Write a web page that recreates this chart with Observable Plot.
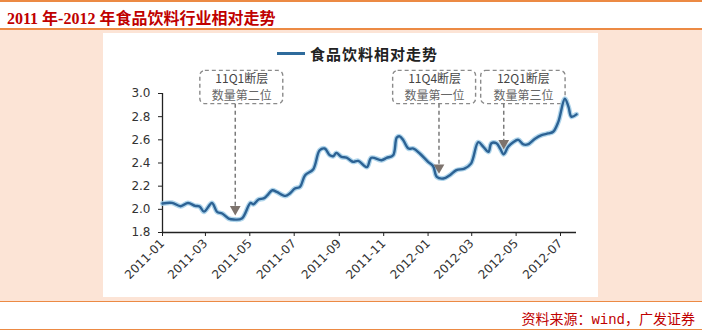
<!DOCTYPE html>
<html>
<head>
<meta charset="utf-8">
<script src="https://cdn.jsdelivr.net/npm/d3@7"></script>
<script src="https://cdn.jsdelivr.net/npm/@observablehq/plot@0.6"></script>
<style>
  html, body { margin: 0; padding: 0; background: #fff; }
  body { width: 703px; height: 332px; position: relative; overflow: hidden; }
  .hline { position: absolute; left: 0; width: 702px; background: #ec8a44; }
  #title { position: absolute; left: 7px; top: 5px; font: bold 16px "Liberation Serif", "Noto Sans CJK SC", serif; color: #c00000; white-space: nowrap; }
  #panel { position: absolute; left: 0; top: 30px; width: 702px; height: 271px; background: #fce4d6; }
  #chart { position: absolute; left: 103px; top: 33px; width: 495px; height: 264px; background: #fff; }
  #legend { position: absolute; left: 174px; top: 10px; display: flex; align-items: center; white-space: nowrap; }
  #legend .sw { width: 28px; height: 3px; background: #2e6b9c; margin-right: 5px; }
  #legend .lb { font: bold 15px "Noto Sans CJK SC", sans-serif; color: #222; letter-spacing: 1px; }
  #caption { position: absolute; right: 8px; top: 308px; font: 14px "Liberation Mono", "Noto Sans CJK SC", monospace; color: #c00000; white-space: nowrap; }
</style>
</head>
<body>
<div class="hline" style="top:0;height:1.5px"></div>
<div id="title">2011 年-2012 年食品饮料行业相对走势</div>
<div class="hline" style="top:28px;height:1.5px"></div>
<div id="panel"></div>
<div id="chart"></div>
<div class="hline" style="top:300.5px;height:1.5px"></div>
<div id="caption">资料来源：wind，广发证券</div>
<div class="hline" style="top:328.5px;height:1.5px"></div>
<script>
// ---- data ----
const seriesName = "食品饮料相对走势";
const dates = [
  "2011-01-01","2011-01-14","2011-01-26","2011-02-05","2011-02-15","2011-02-21","2011-02-27",
  "2011-03-10","2011-03-17","2011-03-24","2011-04-02","2011-04-09","2011-04-20","2011-05-02",
  "2011-05-06","2011-05-13","2011-05-20","2011-05-25","2011-06-01","2011-06-07","2011-06-19",
  "2011-06-25","2011-07-02","2011-07-09","2011-07-16","2011-07-27","2011-08-05","2011-08-12",
  "2011-08-19","2011-08-24","2011-08-28","2011-09-04","2011-09-11","2011-09-16","2011-09-20",
  "2011-09-27","2011-10-09","2011-10-15","2011-10-29","2011-11-05","2011-11-14","2011-11-19",
  "2011-11-23","2011-11-28","2011-12-05","2011-12-12","2011-12-21","2012-01-01","2012-01-08",
  "2012-01-13","2012-01-22","2012-01-31","2012-02-09","2012-02-20","2012-02-29","2012-03-10",
  "2012-03-17","2012-03-24","2012-03-28","2012-04-04","2012-04-09","2012-04-14","2012-04-20",
  "2012-04-27","2012-05-04","2012-05-11","2012-05-17","2012-05-27","2012-06-05","2012-06-14",
  "2012-06-21","2012-06-28","2012-07-07","2012-07-12","2012-07-16","2012-07-23"
];
const values = [
  2.05,2.056,2.027,2.055,2.03,2.025,1.98,
  2.055,1.978,1.964,1.92,1.912,1.92,2.055,
  2.044,2.085,2.094,2.12,2.165,2.15,2.116,
  2.137,2.18,2.194,2.295,2.344,2.51,2.525,
  2.467,2.46,2.487,2.453,2.447,2.424,2.41,
  2.418,2.365,2.445,2.424,2.444,2.467,2.62,
  2.63,2.597,2.525,2.525,2.48,2.41,2.372,
  2.28,2.266,2.295,2.338,2.352,2.395,2.58,
  2.54,2.496,2.57,2.57,2.525,2.476,2.54,
  2.58,2.60,2.56,2.56,2.61,2.64,2.655,
  2.67,2.755,2.955,2.885,2.80,2.82
];
const xDomain = ["2011-01-01","2012-07-23"];
const xTicks = ["2011-01","2011-03","2011-05","2011-07","2011-09","2011-11","2012-01","2012-03","2012-05","2012-07"];
const yTicks = [1.8, 2.0, 2.2, 2.4, 2.6, 2.8, 3.0];

// annotations
const annLine1 = ["11Q1断层","11Q4断层","12Q1断层"];
const annLine2 = ["数量第二位","数量第一位","数量第三位"];
const annArrowDate = ["2011-04-11","2012-01-16","2012-04-14"];
const annTipValue = [1.975, 2.335, 2.545];
const annBoxStart = ["2011-02-22","2011-11-14","2012-03-14"];
const annBoxEnd = ["2011-06-16","2012-03-07","2012-07-08"];
const annBoxBottom = 2.908, annBoxTop = 3.195, annText1Y = 3.122, annText2Y = 2.98;

// ---- build ----
const P = d3.utcParse("%Y-%m-%d");
const PM = d3.utcParse("%Y-%m");
const data = dates.map((d, i) => ({date: P(d), value: values[i]}));
const ann = annLine1.map((t, i) => ({
  t1: t, t2: annLine2[i],
  x: P(annArrowDate[i]), tip: annTipValue[i],
  x1: P(annBoxStart[i]), x2: P(annBoxEnd[i]),
  xm: new Date((P(annBoxStart[i]).getTime() + P(annBoxEnd[i]).getTime()) / 2)
}));

const chart = Plot.plot({
  width: 495, height: 264,
  marginLeft: 59, marginRight: 22, marginTop: 60, marginBottom: 65,
  style: {background: "transparent", fontFamily: "DejaVu Sans, sans-serif", fontSize: "12px", color: "#333", overflow: "visible"},
  x: {type: "utc", domain: xDomain.map(P)},
  y: {domain: [1.8, 3.0]},
  marks: [
    Plot.axisY({ticks: yTicks, tickFormat: d => d.toFixed(1), tickSize: 4, tickPadding: 8, stroke: "#222", label: null}),
    Plot.axisX({ticks: xTicks.map(PM), tickFormat: d3.utcFormat("%Y-%m"), tickSize: 4, tickPadding: 5, tickRotate: -45, stroke: "#222", label: null}),
    Plot.ruleX([P(xDomain[0])], {y1: 1.8, y2: 3.0, stroke: "#222", strokeWidth: 1.3}),
    Plot.ruleY([1.8], {stroke: "#222", strokeWidth: 1.3}),
    // annotation boxes
    Plot.rect(ann, {x1: "x1", x2: "x2", y1: annBoxBottom, y2: annBoxTop, rx: 5, fill: "white", stroke: "#8a8a8a", strokeWidth: 1.4, strokeDasharray: "4,3"}),
    Plot.text(ann, {x: "xm", y: () => annText1Y, text: "t1", fill: "#444", fontSize: 12, fontFamily: "Noto Sans CJK SC, sans-serif", letterSpacing: 0.5}),
    Plot.text(ann, {x: "xm", y: () => annText2Y, text: "t2", fill: "#666", fontSize: 12, fontFamily: "Noto Sans CJK SC, sans-serif", letterSpacing: 2}),
    Plot.ruleX(ann, {x: "x", y1: () => annBoxBottom, y2: "tip", stroke: "#7a7a7a", strokeWidth: 1.5, strokeDasharray: "4,3"}),
    // series
    Plot.line(data, {x: "date", y: "value", stroke: "#9ccbe6", strokeWidth: 5, strokeOpacity: 0.8, curve: "catmull-rom"}),
    Plot.line(data, {x: "date", y: "value", stroke: "#2c6294", strokeWidth: 2.4, curve: "catmull-rom"}),
    Plot.dot(ann, {x: "x", y: "tip", symbol: "triangle", rotate: 180, r: 4, fill: "#7d736d", stroke: "none", dy: -3})
  ]
});
const host = document.getElementById("chart");
host.appendChild(chart);
const lg = document.createElement("div");
lg.id = "legend";
lg.innerHTML = `<div class="sw"></div><div class="lb">${seriesName}</div>`;
host.appendChild(lg);
</script>
</body>
</html>
